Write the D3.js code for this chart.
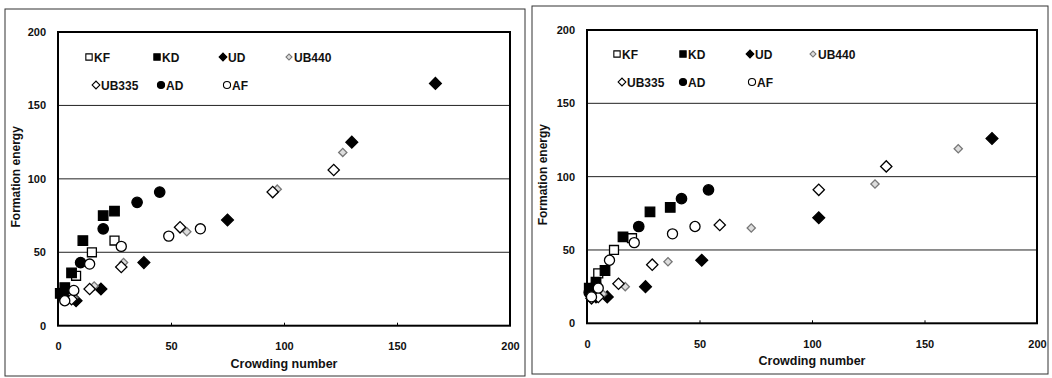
<!DOCTYPE html>
<html>
<head>
<meta charset="utf-8">
<script src="https://cdn.jsdelivr.net/npm/d3@7"></script>
<style>
  body { margin: 0; background: #fff; }
  svg { display: block; }
  text { font-family: "Liberation Sans", Arial, sans-serif; font-weight: bold; fill: #111; }
</style>
</head>
<body>
<svg id="chart" width="1052" height="378"></svg>
<script>
// series names, in legend order
const seriesNames = ["KF", "KD", "UD", "UB440", "UB335", "AD", "AF"];
const xTicks = [0, 50, 100, 150, 200];
const yTicks = [0, 50, 100, 150, 200];

// left panel: [crowding number, formation energy]
const leftKF    = [[2,21],[8,34],[15,50],[25,58]];
const leftKD    = [[1,22],[3,26],[6,36],[11,58],[20,75],[25,78]];
const leftUD    = [[3,19],[8,17],[19,25],[38,43],[75,72],[130,125],[167,165]];
const leftUB440 = [[7,19],[16,27],[29,43],[57,64],[97,93],[126,118]];
const leftUB335 = [[6,18],[14,25],[28,40],[54,67],[95,91],[122,106]];
const leftAD    = [[2,20],[3,24],[10,43],[20,66],[35,84],[45,91]];
const leftAF    = [[3,17],[7,24],[14,42],[28,54],[49,61],[63,66]];

// right panel
const rightKF    = [[2,20],[5,34],[12,50],[20,58]];
const rightKD    = [[1,24],[4,28],[8,36],[16,59],[28,76],[37,79]];
const rightUD    = [[4,18],[9,18],[26,25],[51,43],[103,72],[180,126]];
const rightUB440 = [[7,20],[17,25],[36,42],[73,65],[128,95],[165,119]];
const rightUB335 = [[2,17],[5,18],[14,27],[29,40],[59,67],[103,91],[133,107]];
const rightAD    = [[1,21],[4,26],[23,66],[42,85],[54,91]];
const rightAF    = [[2,18],[5,24],[10,43],[21,55],[38,61],[48,66]];

// diamonds are squares turned by 45 degrees
const STYLE = {
  KF:    {type: d3.symbolSquare, rot: 0,  size: 80, fill: "#fff", stroke: "#000"},
  KD:    {type: d3.symbolSquare, rot: 0,  size: 90, fill: "#000", stroke: "#000"},
  UD:    {type: d3.symbolSquare, rot: 45, size: 70, fill: "#000", stroke: "#000"},
  UB440: {type: d3.symbolSquare, rot: 45, size: 34, fill: "#ddd", stroke: "#777"},
  UB335: {type: d3.symbolSquare, rot: 45, size: 64, fill: "#fff", stroke: "#000"},
  AD:    {type: d3.symbolCircle, rot: 0,  size: 85, fill: "#000", stroke: "#000"},
  AF:    {type: d3.symbolCircle, rot: 0,  size: 80, fill: "#fff", stroke: "#000"}
};

const svg = d3.select("#chart");

function drawPanel(opt, data) {
  const g = svg.append("g");

  g.append("rect")
    .attr("x", opt.frame[0]).attr("y", opt.frame[1])
    .attr("width", opt.frame[2] - opt.frame[0])
    .attr("height", opt.frame[3] - opt.frame[1])
    .attr("fill", "none").attr("stroke", "#333").attr("stroke-width", 1);

  const x = d3.scaleLinear().domain([0, 200]).range([opt.left, opt.right]);
  const y = d3.scaleLinear().domain([0, 200]).range([opt.bottom, opt.top]);

  // gridlines
  g.append("g").selectAll("line")
    .data(yTicks.filter(d => d > 0 && d < 200))
    .enter().append("line")
    .attr("x1", opt.left).attr("x2", opt.right)
    .attr("y1", d => y(d)).attr("y2", d => y(d))
    .attr("stroke", "#222").attr("stroke-width", 1);

  // plot frame
  g.append("rect")
    .attr("x", opt.left).attr("y", opt.top)
    .attr("width", opt.right - opt.left).attr("height", opt.bottom - opt.top)
    .attr("fill", "none").attr("stroke", "#000").attr("stroke-width", 2);

  const xAxis = g.append("g")
    .attr("transform", "translate(0," + opt.bottom + ")")
    .call(d3.axisBottom(x).tickValues(xTicks).tickSize(-3).tickPadding(17));
  const yAxis = g.append("g")
    .attr("transform", "translate(" + opt.left + ",0)")
    .call(d3.axisLeft(y).tickValues(yTicks).tickSize(0).tickPadding(12));
  [xAxis, yAxis].forEach(a => {
    a.select(".domain").remove();
    a.selectAll("line").attr("stroke", "#000");
    a.selectAll("text").attr("font-size", 11).attr("fill", "#111")
      .attr("font-family", "Liberation Sans, Arial, sans-serif").attr("font-weight", "bold");
  });

  g.append("text")
    .attr("x", (opt.left + opt.right) / 2).attr("y", opt.bottom + 42)
    .attr("text-anchor", "middle").attr("font-size", 12.5)
    .text("Crowding number");
  g.append("text")
    .attr("transform", "translate(" + (opt.frame[0] + 15) + "," + ((opt.top + opt.bottom) / 2 - 2) + ") rotate(-90)")
    .attr("text-anchor", "middle").attr("font-size", 12)
    .text("Formation energy");

  // points
  seriesNames.forEach(name => {
    const s = STYLE[name];
    g.append("g").selectAll("path")
      .data(data[name])
      .enter().append("path")
      .attr("transform", d => "translate(" + x(d[0]) + "," + y(d[1]) + ") rotate(" + s.rot + ")")
      .attr("d", d3.symbol().type(s.type).size(s.size))
      .attr("fill", s.fill).attr("stroke", s.stroke).attr("stroke-width", 1.3);
  });

  // legend
  seriesNames.forEach((name, i) => {
    const s = STYLE[name];
    const p = opt.legend[i];
    const lg = g.append("g").attr("transform", "translate(" + p[0] + "," + p[1] + ")");
    lg.append("path")
      .attr("transform", "rotate(" + s.rot + ")")
      .attr("d", d3.symbol().type(s.type).size(name === "UB440" ? 18 : (s.rot ? 30 : 40)))
      .attr("fill", s.fill).attr("stroke", s.stroke).attr("stroke-width", 1.1);
    lg.append("text").attr("x", 5).attr("y", 4.5).attr("font-size", 12).text(name);
  });
}

drawPanel({
  frame: [5, 9, 525, 376],
  left: 58, right: 510, top: 32, bottom: 325.7,
  legend: [[89, 57], [157, 57], [223, 57], [289, 57], [96, 85], [161, 85], [227, 85]]
}, {KF: leftKF, KD: leftKD, UD: leftUD, UB440: leftUB440, UB335: leftUB335, AD: leftAD, AF: leftAF});

drawPanel({
  frame: [532, 6, 1048, 374],
  left: 587, right: 1037, top: 30, bottom: 323.3,
  legend: [[617, 54], [683, 54], [750, 54], [813, 54], [622, 82], [683, 82], [752, 82]]
}, {KF: rightKF, KD: rightKD, UD: rightUD, UB440: rightUB440, UB335: rightUB335, AD: rightAD, AF: rightAF});
</script>
</body>
</html>
